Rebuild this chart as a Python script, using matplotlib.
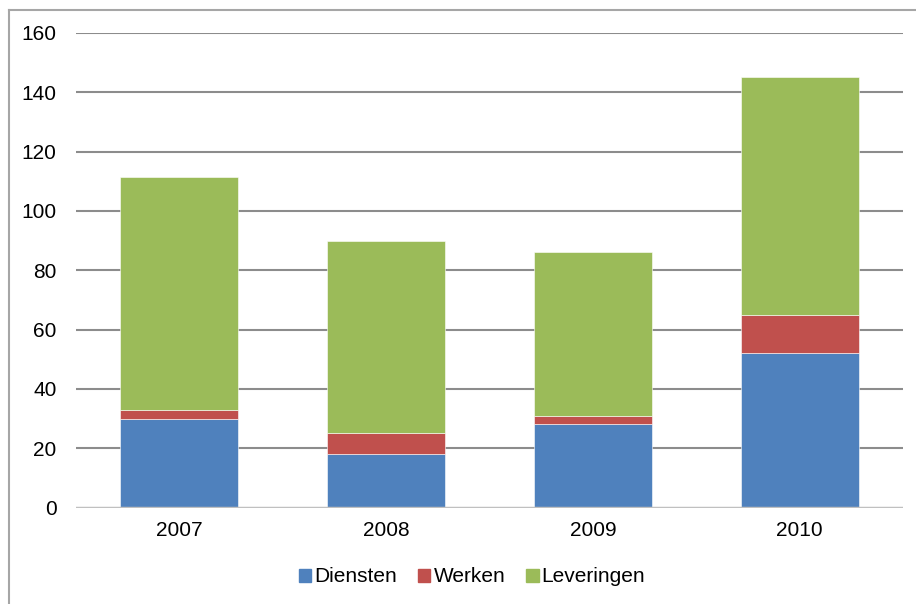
import matplotlib
matplotlib.use("Agg")
import matplotlib.pyplot as plt
from matplotlib.lines import Line2D
import numpy as np

years = ["2007", "2008", "2009", "2010"]
diensten = [30, 18, 28, 52]
werken = [3, 7, 3, 13]
leveringen = [78.5, 65, 55, 80]
series_names = ["Diensten", "Werken", "Leveringen"]
colors = ["#4f81bd", "#c0504d", "#9bbb59"]
yticks = [0, 20, 40, 60, 80, 100, 120, 140, 160]

plt.rcParams['font.family'] = ['Liberation Sans', 'DejaVu Sans']

fig = plt.figure(figsize=(9.16, 6.04), dpi=100)
ax = fig.add_axes([76/916, (604-507.5)/604, (903-76)/916, (507.5-33)/604])

x = np.arange(len(years))
bottom = np.zeros(len(years))
for name, vals, c in zip(series_names, [diensten, werken, leveringen], colors):
    ax.bar(x, vals, width=0.57, bottom=bottom, color=c, label=name, zorder=3,
           edgecolor='white', linewidth=0.4)
    bottom += np.array(vals)

ax.set_xlim(-0.5, len(years) - 0.5)
ax.set_ylim(0, 160)
ax.set_yticks(yticks)
ax.set_xticks(x)
ax.set_xticklabels(years)
for t in yticks[1:]:
    ax.axhline(t, color='#8c8c8c', linewidth=1.5, zorder=1)
ax.axhline(0, color='#c0c0c0', linewidth=2.5, zorder=4)
for s in ax.spines.values():
    s.set_visible(False)
ax.tick_params(axis='both', length=0, labelsize=15, colors='black')
ax.tick_params(axis='y', pad=14)
ax.tick_params(axis='x', pad=10)

handles = [plt.Rectangle((0, 0), 1, 1, color=c) for c in colors]
fig.legend(handles, series_names, loc='center', bbox_to_anchor=(472/916, 1 - 577/604),
           ncol=3, frameon=False, fontsize=15, handlelength=0.6, handleheight=0.6,
           handletextpad=0.15, columnspacing=1.0)

# outer border (left and top)
fig.add_artist(Line2D([9/916, 9/916], [0, 1 - 9.5/604], transform=fig.transFigure,
                      color='#a6a6a6', linewidth=1.5))
fig.add_artist(Line2D([9/916, 1], [1 - 9.5/604, 1 - 9.5/604], transform=fig.transFigure,
                      color='#a6a6a6', linewidth=1.5))

fig.savefig("out.png", dpi=100)
